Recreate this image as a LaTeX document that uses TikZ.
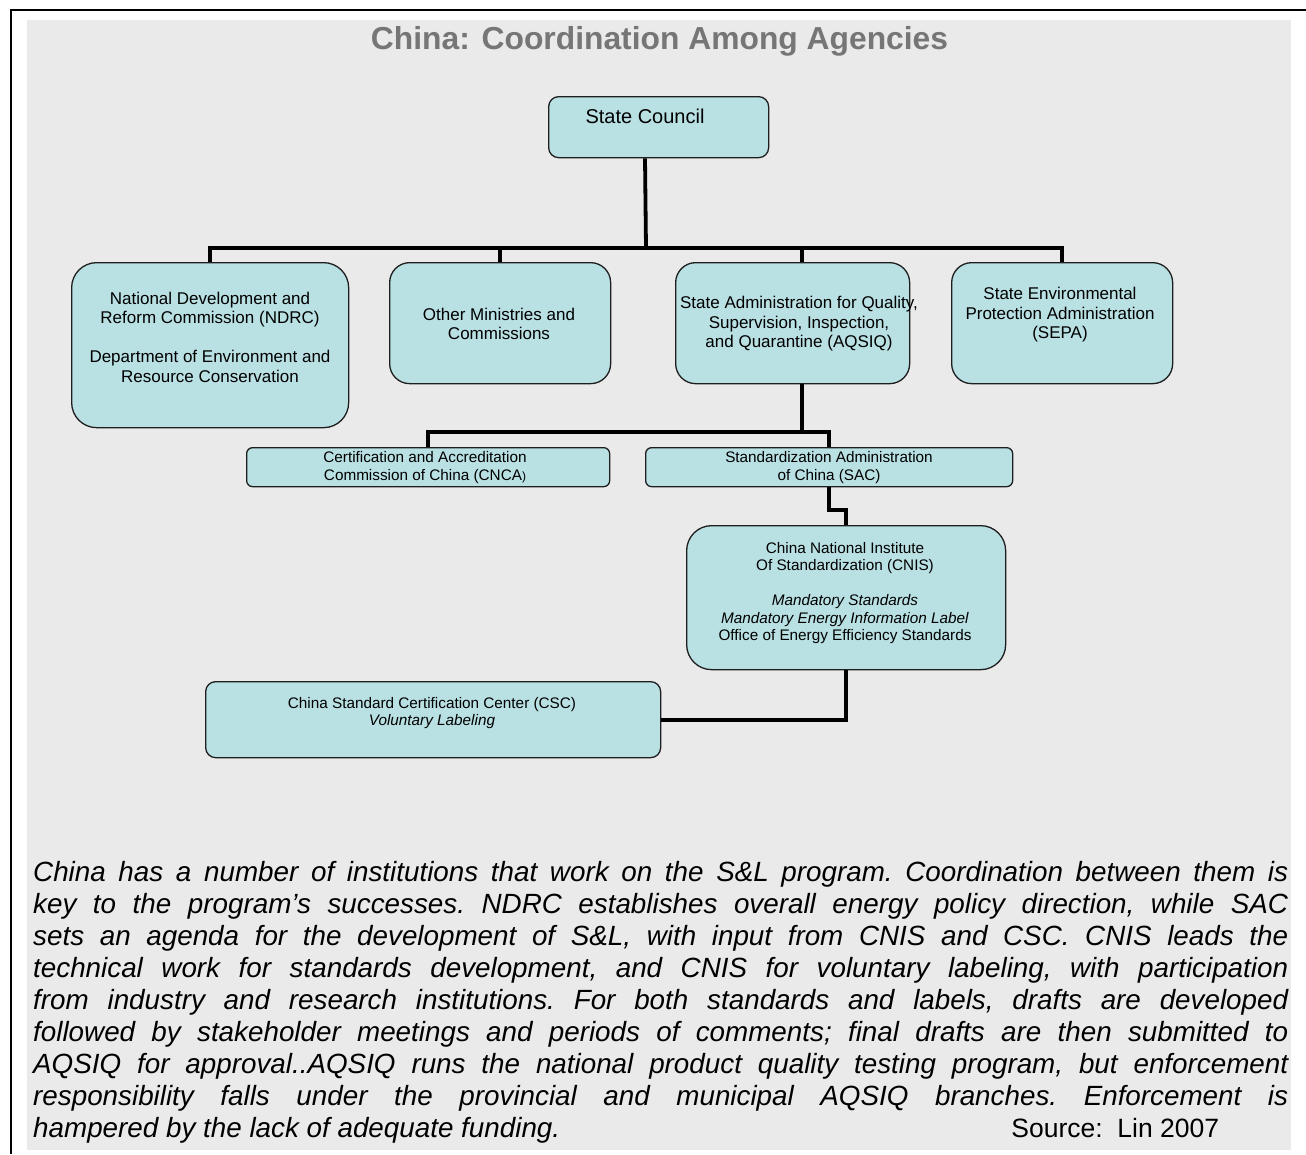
\documentclass[tikz,border=0pt]{standalone}
\usepackage{fontspec}
\setmainfont{Liberation Sans}
\definecolor{panel}{RGB}{234,234,234}
\definecolor{boxfill}{RGB}{185,224,227}
\definecolor{titlegray}{RGB}{118,118,118}
\definecolor{edge}{RGB}{30,30,30}
\begin{document}
\begin{tikzpicture}[x=1pt,y=-1pt,
  box/.style={draw=edge, line width=1.3pt, fill=boxfill, inner sep=0pt, anchor=north west},
  conn/.style={line width=3.8pt, line join=miter},
  txt/.style={align=center, inner sep=0pt, font=\fontsize{17}{19.5}\selectfont},
  smalltxt/.style={align=center, inner sep=0pt, font=\fontsize{15.3}{17.5}\selectfont}]
\useasboundingbox (0,0) rectangle (1306,1154);
\fill[panel] (27,20) rectangle (1291,1150);
\draw[line width=2pt] (10,9.5) -- (1306,9.5);
\draw[line width=2pt] (11,9) -- (11,1154);

\node[font=\fontsize{31.8}{36}\selectfont\bfseries, text=titlegray, anchor=base, inner sep=0pt] (title) at (659.5,49.5) {China: Coordination Among Agencies};

% boxes
\node[box, rounded corners=10pt, minimum width=220pt, minimum height=61pt] (sc) at (548,96) {};
\node[box, rounded corners=25pt, minimum width=277pt, minimum height=165pt] (ndrc) at (71,262) {};
\node[box, rounded corners=20pt, minimum width=221pt, minimum height=121pt] (other) at (389,262) {};
\node[box, rounded corners=20pt, minimum width=234pt, minimum height=121pt] (aqsiq) at (675,262) {};
\node[box, rounded corners=20pt, minimum width=221pt, minimum height=121pt] (sepa) at (951,262) {};
\node[box, rounded corners=6pt, minimum width=363pt, minimum height=39pt] (cnca) at (246,447) {};
\node[box, rounded corners=6pt, minimum width=367pt, minimum height=39pt] (sac) at (645,447) {};
\node[box, rounded corners=25pt, minimum width=319pt, minimum height=144pt] (cnis) at (686,525) {};
\node[box, rounded corners=10pt, minimum width=455pt, minimum height=76pt] (csc) at (205,681) {};

% texts
\node[inner sep=0pt, anchor=base, font=\fontsize{20}{23}\selectfont] (sct) at (645,123) {State Council};
\node[txt] (ndrct) at (210,337) {National Development and\\Reform Commission (NDRC)\\[19.5pt]Department of Environment and\\Resource Conservation};
\node[txt] (othert) at (499,324) {Other Ministries and\\Commissions};
\node[txt] (aqsiqt) at (799,324) {State Administration for Quality,\\Supervision, Inspection,\\and Quarantine (AQSIQ)};
\node[txt] (sepat) at (1060,315) {State Environmental\\Protection Administration\\(SEPA)};
\node[smalltxt] (cncat) at (425,467.5) {Certification and Accreditation\\Commission of China (CNCA{\fontsize{12}{12}\selectfont)}};
\node[smalltxt] (sact) at (829,467.5) {Standardization Administration\\of China (SAC)};
\node[smalltxt] (cnist) at (845,593) {China National Institute\\Of Standardization (CNIS)\\[17.5pt]\textit{Mandatory Standards}\\\textit{Mandatory Energy Information Label}\\Office of Energy Efficiency Standards};
\node[smalltxt] (csct) at (432,713) {China Standard Certification Center (CSC)\\\textit{Voluntary Labeling}};

% connectors
\coordinate (bus1) at (646,248);
\coordinate (bus2) at (802,432);
\coordinate (sacbend) at (0,510);
\draw[conn] (sct |- sc.south) -- (bus1);
\draw[conn] (ndrc.north) -- (ndrc.north |- bus1) -- (sepa.north |- bus1) -- (sepa.north);
\draw[conn] (other.north) -- (other.north |- bus1);
\draw[conn] (aqsiq.north -| bus2) -- (bus2 |- bus1);
\draw[conn] (aqsiq.south -| bus2) -- (bus2);
\draw[conn] (cnca.north) -- (cnca.north |- bus2) -- (sac.north |- bus2) -- (sac.north);
\draw[conn] (sac.south) -- (sac.south |- sacbend) -- (cnis.north |- sacbend) -- (cnis.north);
\draw[conn] (cnis.south) |- (csc.east);

% paragraph
\node[anchor=north west, inner sep=0pt, text width=1255pt, align=justify,
      font=\fontsize{27.8}{32}\selectfont\itshape] (para) at (33,861) {\hyphenpenalty=10000\frenchspacing
China has a number of institutions that work on the S\&L program. Coordination between them is\linebreak
key to the program’s successes. NDRC establishes overall energy policy direction, while SAC\linebreak
sets an agenda for the development of S\&L, with input from CNIS and CSC. CNIS leads the\linebreak
technical work for standards development, and CNIS for voluntary labeling, with participation\linebreak
from industry and research institutions. For both standards and labels, drafts are developed\linebreak
followed by stakeholder meetings and periods of comments; final drafts are then submitted to\linebreak
AQSIQ for approval..AQSIQ runs the national product quality testing program, but enforcement\linebreak
responsibility falls under the provincial and municipal AQSIQ branches. Enforcement is\linebreak
hampered by the lack of adequate funding.\hspace{0pt plus 1filll}{\upshape\fontsize{26.5}{32}\selectfont Source:\ \ Lin 2007}\hspace*{69pt}\mbox{}};
\end{tikzpicture}
\end{document}
